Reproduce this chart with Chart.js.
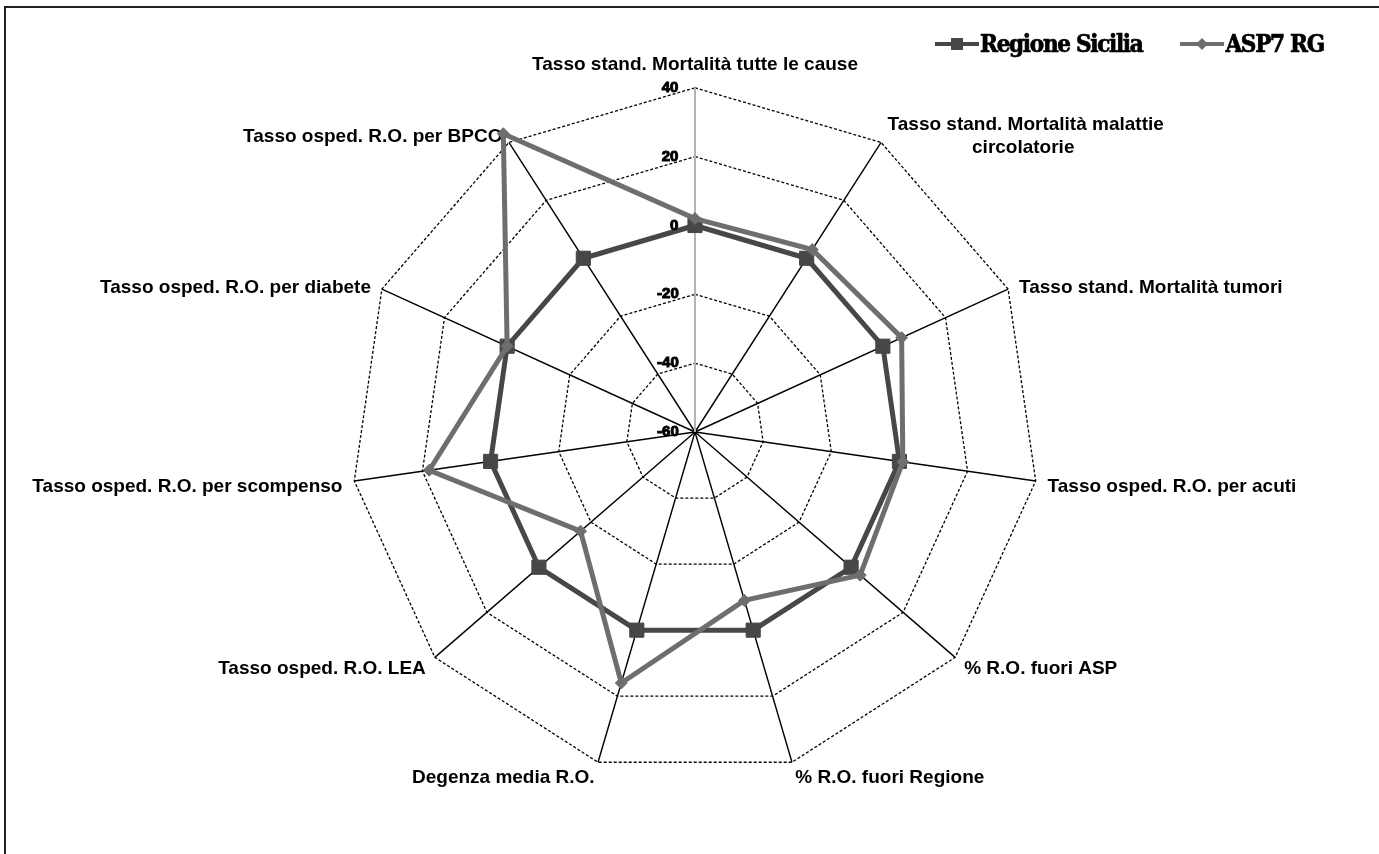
<!DOCTYPE html>
<html lang="it">
<head>
<meta charset="UTF-8">
<title>Radar ASP7 RG</title>
<script src="https://cdn.jsdelivr.net/npm/chart.js"></script>
<style>
    html, body { margin: 0; padding: 0; background: #fff; overflow: hidden; }
    #wrap { position: relative; width: 1379px; height: 854px; }
    #frame { position: absolute; left: 4px; top: 6px; width: 1600px; height: 1000px;
             border-left: 2px solid #222; border-top: 2px solid #222; }
    #legend { position: absolute; left: 935px; top: 29px; display: flex; align-items: center;
              font-family: "DejaVu Serif Condensed", "DejaVu Serif", serif; font-weight: bold;
              font-size: 24px; letter-spacing: -1.3px; color: #000;
              -webkit-text-stroke: 0.7px #000; }
    .item { display: flex; align-items: center; }
    .item + .item { margin-left: 38px; }
    .mark { position: relative; width: 44px; height: 20px; margin-right: 1px; }
    .mark .ln { position: absolute; left: 0; right: 0; top: 8px; height: 4px; }
    .mark .pt { position: absolute; left: 16px; top: 4px; width: 12px; height: 12px; }
    .mark .pt.diamond { transform: rotate(45deg) scale(0.7); }
</style>
</head>
<body>
<div id="wrap">
    <canvas id="radar" width="1379" height="854"></canvas>
    <div id="frame"></div>
    <div id="legend"></div>
</div>
<script>
    const labelFont = 'bold 19px "Liberation Sans"';
    const tickFont = 'bold 15px "Liberation Sans"';
    const mctx = document.createElement('canvas').getContext('2d');

    // seconda riga centrata sotto la prima
    const centra = (a, b) => {
        mctx.font = labelFont;
        const d = (mctx.measureText(a).width - mctx.measureText(b).width) / 2;
        return '\u00A0'.repeat(Math.max(0, Math.round(d / mctx.measureText('\u00A0').width))) + b;
    };

    // Assi del radar
    const indicatori = [
        'Tasso stand. Mortalità tutte le cause',
        ['Tasso stand. Mortalità malattie', centra('Tasso stand. Mortalità malattie', 'circolatorie')],
        'Tasso stand. Mortalità tumori',
        'Tasso osped. R.O. per acuti',
        '% R.O. fuori ASP',
        '% R.O. fuori Regione',
        'Degenza media R.O.',
        'Tasso osped. R.O. LEA',
        'Tasso osped. R.O. per scompenso',
        'Tasso osped. R.O. per diabete',
        'Tasso osped. R.O. per BPCO'
    ];

    // Valori
    const regioneSicilia = [0, 0, 0, 0, 0, 0, 0, 0, 0, 0, 0];
    const asp7RG = [2, 3, 6, 1, 3.5, -9, 16, -16, 18, 0, 43];

    const nomiSerie = ['Regione Sicilia', 'ASP7 RG'];
    const scalaMin = -60;
    const scalaMax = 40;
    const scalaPasso = 20;

    const coloreRegione = '#474747';
    const coloreASP = '#6e6e6e';

    // le etichette dei tick stanno a sinistra dell'asse verticale
    const tickGap = 17;
    const tickLabel = (v) => {
        mctx.font = tickFont;
        const w = mctx.measureText(String(v)).width;
        return v + '\u00A0'.repeat(Math.round((2 * tickGap + w) / mctx.measureText('\u00A0').width));
    };

    // etichette centrate in verticale sul loro punto di ancoraggio, come in Excel
    const centraEtichette = (scale) => {
        const items = scale._pointLabelItems || [];
        items.forEach((it, i) => {
            const ang = Math.round(scale.getIndexAngle(i) * 180 / Math.PI) % 360;
            if (ang === 0 || ang === 180) return;
            const h = it.bottom - it.top;
            const sopra = ang < 90 || ang > 270;
            const dy = sopra ? h / 2 + 4 : 4 - h / 2;
            it.y += dy; it.top += dy; it.bottom += dy;
        });
    };

    const ctx = document.getElementById('radar').getContext('2d');
    const chart = new Chart(ctx, {
        type: 'radar',
        data: {
            labels: indicatori,
            datasets: [{
                label: nomiSerie[0],
                data: regioneSicilia,
                borderColor: coloreRegione,
                backgroundColor: coloreRegione,
                pointBackgroundColor: coloreRegione,
                pointBorderColor: coloreRegione,
                borderWidth: 5,
                pointStyle: 'rect',
                pointRadius: 10,
                pointBorderWidth: 1,
                fill: false,
                order: 2
            }, {
                label: nomiSerie[1],
                data: asp7RG,
                borderColor: coloreASP,
                backgroundColor: coloreASP,
                pointBackgroundColor: coloreASP,
                pointBorderColor: coloreASP,
                borderWidth: 5,
                pointStyle: 'rectRot',
                pointRadius: 6,
                pointBorderWidth: 1,
                fill: false,
                order: 1
            }]
        },
        options: {
            responsive: false,
            animation: false,
            layout: { padding: { top: 46, bottom: 50, left: 9, right: 0 } },
            plugins: {
                legend: { display: false },
                tooltip: { enabled: false }
            },
            elements: { line: { tension: 0 } },
            scales: {
                r: {
                    min: scalaMin,
                    max: scalaMax,
                    afterFit: centraEtichette,
                    ticks: {
                        stepSize: scalaPasso,
                        color: '#000',
                        font: { family: 'Liberation Sans', size: 15, weight: 'bold' },
                        backdropPadding: 1.5,
                        textStrokeColor: '#000',
                        textStrokeWidth: 1,
                        showLabelBackdrop: false,
                        z: 1,
                        callback: tickLabel
                    },
                    grid: { color: '#000', lineWidth: 1.3 },
                    border: { dash: [3, 2] },
                    angleLines: {
                        color: (c) => c.index === 0 ? '#b4b4b4' : '#000',
                        lineWidth: (c) => c.index === 0 ? 2 : 1.4
                    },
                    pointLabels: {
                        color: '#000',
                        padding: 3,
                        font: { family: 'Liberation Sans', size: 19, weight: 'bold' }
                    }
                }
            }
        }
    });

    // Legenda HTML costruita dai dataset
    const legenda = document.getElementById('legend');
    chart.data.datasets.forEach((ds) => {
        const item = document.createElement('div');
        item.className = 'item';
        const mark = document.createElement('div');
        mark.className = 'mark';
        const ln = document.createElement('div');
        ln.className = 'ln';
        ln.style.background = ds.borderColor;
        const pt = document.createElement('div');
        pt.className = 'pt' + (ds.pointStyle === 'rectRot' ? ' diamond' : '');
        pt.style.background = ds.borderColor;
        mark.appendChild(ln);
        mark.appendChild(pt);
        const txt = document.createElement('span');
        txt.textContent = ds.label;
        item.appendChild(mark);
        item.appendChild(txt);
        legenda.appendChild(item);
    });
</script>
</body>
</html>
